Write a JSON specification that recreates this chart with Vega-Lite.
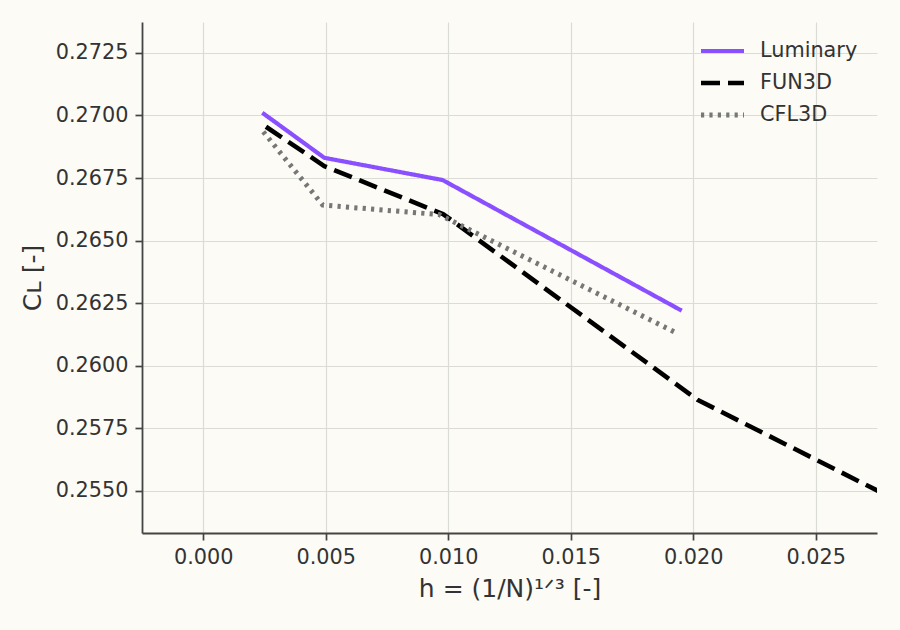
{
  "$schema": "https://vega.github.io/schema/vega-lite/v6.json",
  "width": 735,
  "height": 511,
  "autosize": "none",
  "padding": {"left": 142, "top": 22, "right": 23, "bottom": 97},
  "background": "#fcfbf5",
  "data": {
    "values": [
      {"solver": "Luminary", "h": 0.00241, "cl": 0.27011},
      {"solver": "Luminary", "h": 0.00494, "cl": 0.26831},
      {"solver": "Luminary", "h": 0.00977, "cl": 0.26742},
      {"solver": "Luminary", "h": 0.01953, "cl": 0.26220},
      {"solver": "FUN3D", "h": 0.00256, "cl": 0.26955},
      {"solver": "FUN3D", "h": 0.00494, "cl": 0.26798},
      {"solver": "FUN3D", "h": 0.00979, "cl": 0.26606},
      {"solver": "FUN3D", "h": 0.02019, "cl": 0.25863},
      {"solver": "FUN3D", "h": 0.04040, "cl": 0.24864},
      {"solver": "CFL3D", "h": 0.00245, "cl": 0.26935},
      {"solver": "CFL3D", "h": 0.00488, "cl": 0.26642},
      {"solver": "CFL3D", "h": 0.00963, "cl": 0.26604},
      {"solver": "CFL3D", "h": 0.01939, "cl": 0.26127}
    ]
  },
  "mark": {"type": "line", "clip": true, "strokeCap": "butt", "strokeJoin": "round"},
  "encoding": {
    "x": {
      "field": "h",
      "type": "quantitative",
      "scale": {"domain": [-0.0025, 0.0275], "nice": false, "zero": false},
      "axis": {
        "title": "h = (1/N)¹ᐟ³ [-]",
        "values": [0, 0.005, 0.01, 0.015, 0.02, 0.025],
        "format": ".3f"
      }
    },
    "y": {
      "field": "cl",
      "type": "quantitative",
      "scale": {"domain": [0.253316, 0.273736], "nice": false, "zero": false},
      "axis": {
        "title": "Cʟ [-]",
        "values": [0.255, 0.2575, 0.26, 0.2625, 0.265, 0.2675, 0.27, 0.2725],
        "format": ".4f"
      }
    },
    "color": {
      "field": "solver",
      "type": "nominal",
      "scale": {"domain": ["Luminary", "FUN3D", "CFL3D"], "range": ["#8a4fff", "#000000", "#777777"]},
      "legend": {"title": null}
    },
    "strokeDash": {
      "field": "solver",
      "type": "nominal",
      "scale": {"domain": ["Luminary", "FUN3D", "CFL3D"], "range": [[1, 0], [19, 8], [3.2, 5.2]]},
      "legend": {"title": null}
    },
    "strokeWidth": {
      "field": "solver",
      "type": "nominal",
      "scale": {"domain": ["Luminary", "FUN3D", "CFL3D"], "range": [4.2, 5, 3.2]},
      "legend": null
    }
  },
  "config": {
    "font": "DejaVu Sans",
    "view": {"stroke": null},
    "axis": {
      "domainColor": "#444444",
      "domainWidth": 1.8,
      "tickColor": "#444444",
      "tickWidth": 1.7,
      "tickSize": 7,
      "labelPadding": 7,
      "labelFontSize": 20.8,
      "labelColor": "#333333",
      "labelFlush": false,
      "labelOverlap": false,
      "titleFontSize": 25,
      "titleFontWeight": "normal",
      "titleColor": "#333333",
      "gridColor": "#dcdcd6",
      "gridWidth": 1.2
    },
    "axisX": {"titlePadding": 10},
    "axisY": {"titlePadding": 10},
    "legend": {
      "orient": "none",
      "legendX": 556,
      "legendY": 13,
      "padding": 0,
      "symbolType": "stroke",
      "symbolSize": 1850,
      "symbolStrokeWidth": 4.2,
      "clipHeight": 32,
      "rowPadding": 0,
      "labelOffset": 13,
      "labelFontSize": 20.8,
      "labelColor": "#333333"
    }
  }
}
